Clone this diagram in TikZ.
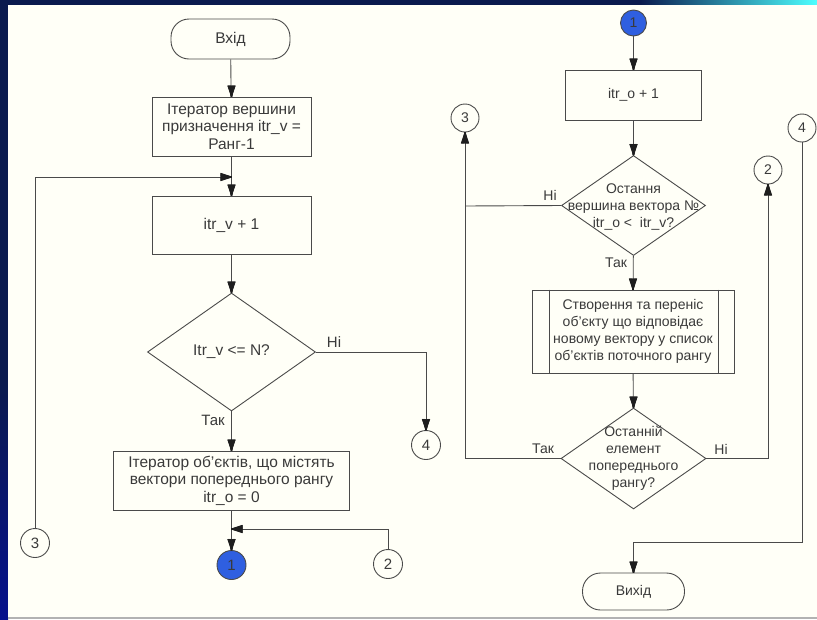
\documentclass[tikz,border=0pt]{standalone}
\usepackage{fontspec}
\setmainfont{Liberation Sans}
\usetikzlibrary{shapes.geometric}
\definecolor{navy}{HTML}{0A1A4E}
\definecolor{paper}{HTML}{FFFFF7}
\definecolor{ink}{HTML}{3A3A3A}
\definecolor{lineclr}{HTML}{4A4A4A}
\definecolor{tipclr}{HTML}{1E1E1E}
\definecolor{connblue}{HTML}{2F5FE0}
\tikzset{
  box/.style={draw=lineclr, line width=0.9pt, fill=paper, rectangle, inner sep=0pt},
  term/.style={box, rounded corners=18pt},
  dia/.style={draw=lineclr, line width=0.9pt, fill=paper, diamond, inner sep=0pt},
  txt/.style={text=ink, align=center, font=\fontsize{14}{17}\selectfont, inner sep=0pt},
  bigtxt/.style={txt, font=\fontsize{15.5}{17.5}\selectfont},
  conn/.style={draw=lineclr, line width=0.9pt, circle, fill=paper, minimum size=28pt, inner sep=0pt,
    text=ink, font=\fontsize{14}{16}\selectfont},
  connfill/.style={conn, fill=connblue},
  bigconn/.style={minimum size=29pt, font=\fontsize{15}{16}\selectfont},
  plain/.style={draw=lineclr, line width=0.9pt},
  lbl/.style={text=ink, font=\fontsize{14}{16}\selectfont, inner sep=0pt},
  biglbl/.style={lbl, font=\fontsize{15}{16}\selectfont},
  headline/.style={draw=tipclr, line width=1.1pt}
}
% solid arrow head whose point sits at #1, pointing in direction #2 (degrees)
\newcommand\headat[2]{%
  \begin{scope}[shift={(#1)}, rotate=#2]
    \fill[tipclr] (0,0) -- (-11,4) -- (-11,-4) -- cycle;
    \foreach \k in {-3.6,-2.7,...,3.7} \draw[headline] (0,0) -- (-11,\k);
  \end{scope}}
\begin{document}
\begin{tikzpicture}[x=1pt, y=1pt]
% page frame
\useasboundingbox (0,0) rectangle (817,-619);
\fill[navy] (0,0) rectangle (817,-619);
\shade[left color=navy, right color=cyan!70!white] (640,0) rectangle (817,-5);
\shade[top color=navy, bottom color=blue!35!navy] (0,-380) rectangle (8,-619);
\fill[paper] (8,-5) rectangle (817,-617);
\fill[gray!60] (8,-617) rectangle (817,-619);

% left column
\node[term, minimum width=119pt, minimum height=40pt] (start) at (230.5,-39) {};
\node[bigtxt] (startt) at (start) {Вхід};
\node[box, minimum width=159pt, minimum height=59pt] (b1) at (231.5,-126.5) {};
\node[bigtxt] (b1t) at (b1) {Ітератор вершини\\призначення itr\_v =\\Ранг-1};
\node[box, minimum width=159pt, minimum height=58pt] (b2) at (231.5,-225) {};
\node[bigtxt] (b2t) at (b2) {itr\_v + 1};
\node[dia, minimum width=168pt, minimum height=118pt] (d1) at (231.5,-352) {};
\node[bigtxt] (d1t) at (d1) {Itr\_v <= N?};
\node[box, minimum width=236pt, minimum height=59pt] (b3) at (231.5,-480.5) {};
\node[bigtxt] (b3t) at (b3) {Ітератор об’єктів, що містять\\вектори попереднього рангу\\itr\_o = 0};
\node[connfill, bigconn] (c1a) at (231.5,-565) {1};
\node[conn, bigconn] (c2a) at (388,-564) {2};
\node[conn, bigconn] (c3a) at (35,-543) {3};
\node[conn, bigconn] (c4a) at (426,-445) {4};
\coordinate (j1) at (231.5,-177);
\coordinate (j2) at (231.5,-529);

\draw[plain] (start) -- (b1);
\headat{b1.north}{-90}
\draw[plain] (b1) -- (b2);
\headat{b2.north}{-90}
\draw[plain] (c3a) |- (j1);
\headat{j1}{0}
\draw[plain] (b2) -- (d1);
\headat{d1.north}{-90}
\draw[plain] (d1.east) -| (c4a);
\headat{c4a.north}{-90}
\node[biglbl] (l1) at (334,-342) {Ні};
\draw[plain] (d1) -- (b3);
\headat{b3.north}{-90}
\node[biglbl] (l2) at (213,-420) {Так};
\draw[plain] (b3) -- (c1a);
\headat{c1a.north}{-90}
\draw[plain] (c2a) |- (j2);
\headat{j2}{180}

% right column
\node[connfill, minimum size=26pt] (c1b) at (633.5,-23) {1};
\node[box, minimum width=136pt, minimum height=50pt] (b4) at (633.5,-95) {};
\node[txt] (b4t) at (b4) {itr\_o + 1};
\node[dia, minimum width=144pt, minimum height=100pt] (d2) at (633.5,-205.5) {};
\node[txt] (d2t) at (633.5,-207) {Остання\\вершина вектора №\\itr\_o <\ \ itr\_v?};
\node[box, minimum width=202pt, minimum height=83pt] (b5) at (633,-331.5) {};
\draw[plain] ([xshift=18pt]b5.north west) -- ([xshift=18pt]b5.south west)
  ([xshift=-16pt]b5.north east) -- ([xshift=-16pt]b5.south east);
\node[txt] (b5t) at (b5) {Створення та переніс\\об’єкту що відповідає\\новому вектору у список\\об’єктів поточного рангу};
\node[dia, minimum width=145pt, minimum height=101pt] (d3) at (633.5,-458.5) {};
\node[txt] (d3t) at (633.5,-458.5) {Останній\\елемент\\попереднього\\рангу?};
\node[conn] (c3b) at (465,-118) {3};
\node[conn] (c2b) at (768,-170) {2};
\node[conn] (c4b) at (802,-128) {4};
\node[term, minimum width=102pt, minimum height=37pt] (fin) at (633.5,-591.5) {};
\node[txt] (fint) at (fin) {Вихід};
\coordinate (k1) at (465,-206);
\coordinate (k2) at (802,-542);

\draw[plain] (c1b) -- (b4);
\headat{b4.north}{-90}
\draw[plain] (b4) -- (d2);
\headat{d2.north}{-90}
\draw[plain] (d2.west) -- (k1);
\node[lbl] (l3) at (550,-195) {Ні};
\draw[plain] (d2) -- (b5);
\headat{b5.north}{-90}
\node[lbl] (l4) at (616,-263) {Так};
\draw[plain] (b5) -- (d3);
\headat{d3.north}{-90}
\draw[plain] (d3.west) -| (c3b);
\headat{c3b.south}{90}
\node[lbl] (l5) at (543,-449) {Так};
\draw[plain] (d3.east) -| (c2b);
\headat{c2b.south}{90}
\node[lbl] (l6) at (721,-449) {Ні};
\draw[plain] (c4b) -- (k2) -| (fin);
\headat{fin.north}{-90}
\end{tikzpicture}
\end{document}
